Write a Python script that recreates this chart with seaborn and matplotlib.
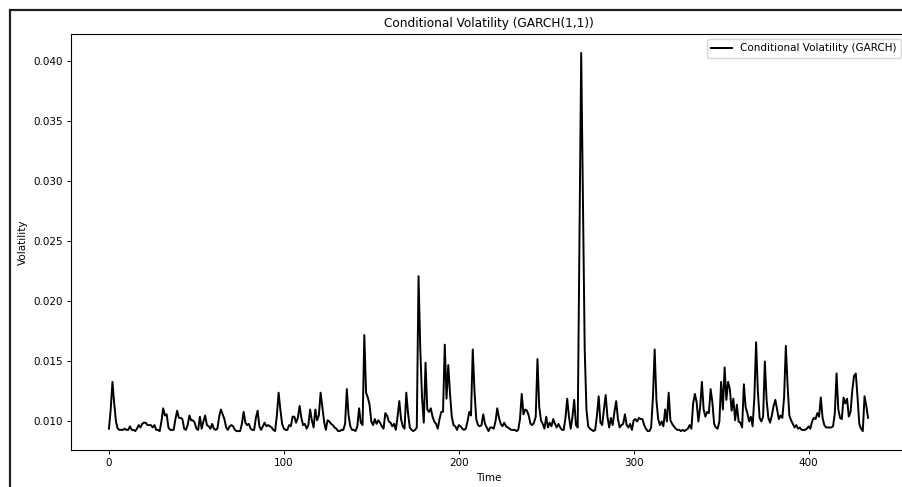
import matplotlib
matplotlib.use("Agg")
import matplotlib.pyplot as plt
from matplotlib.patches import Rectangle
import numpy as np
import pandas as pd
import seaborn as sns

volatility = [
    0.0094, 0.0110, 0.0133, 0.0115, 0.0100, 0.0094, 0.0093, 0.0093, 0.0093, 0.0094,
    0.0093, 0.0093, 0.0096, 0.0093, 0.0093, 0.0092, 0.0094, 0.0097, 0.0095, 0.0098,
    0.0099, 0.0099, 0.0097, 0.0097, 0.0097, 0.0095, 0.0097, 0.0093, 0.0093, 0.0092,
    0.0100, 0.0111, 0.0105, 0.0106, 0.0095, 0.0093, 0.0093, 0.0093, 0.0102, 0.0109,
    0.0103, 0.0103, 0.0102, 0.0094, 0.0093, 0.0097, 0.0105, 0.0101, 0.0101, 0.0099,
    0.0094, 0.0093, 0.0104, 0.0094, 0.0100, 0.0105, 0.0097, 0.0096, 0.0094, 0.0098,
    0.0094, 0.0093, 0.0094, 0.0104, 0.0110, 0.0106, 0.0102, 0.0095, 0.0093, 0.0096,
    0.0097, 0.0096, 0.0093, 0.0092, 0.0092, 0.0092, 0.0098, 0.0108, 0.0099, 0.0097,
    0.0098, 0.0094, 0.0093, 0.0093, 0.0103, 0.0109, 0.0096, 0.0093, 0.0096, 0.0099,
    0.0096, 0.0097, 0.0096, 0.0095, 0.0093, 0.0092, 0.0105, 0.0124, 0.0110, 0.0098,
    0.0094, 0.0093, 0.0093, 0.0097, 0.0096, 0.0104, 0.0104, 0.0099, 0.0103, 0.0113,
    0.0103, 0.0097, 0.0098, 0.0094, 0.0097, 0.0110, 0.0101, 0.0095, 0.0110, 0.0101,
    0.0105, 0.0124, 0.0112, 0.0100, 0.0093, 0.0101, 0.0100, 0.0098, 0.0097, 0.0095,
    0.0094, 0.0092, 0.0092, 0.0093, 0.0093, 0.0098, 0.0127, 0.0105, 0.0096, 0.0093,
    0.0093, 0.0092, 0.0096, 0.0111, 0.0099, 0.0097, 0.0172, 0.0124, 0.0120, 0.0114,
    0.0100, 0.0097, 0.0102, 0.0098, 0.0101, 0.0099, 0.0096, 0.0094, 0.0107, 0.0105,
    0.0100, 0.0099, 0.0096, 0.0098, 0.0093, 0.0104, 0.0117, 0.0102, 0.0096, 0.0094,
    0.0124, 0.0107, 0.0095, 0.0093, 0.0092, 0.0093, 0.0095, 0.0221, 0.0160, 0.0120,
    0.0099, 0.0149, 0.0110, 0.0108, 0.0111, 0.0104, 0.0100, 0.0098, 0.0094, 0.0102,
    0.0108, 0.0108, 0.0164, 0.0119, 0.0147, 0.0123, 0.0104, 0.0097, 0.0096, 0.0093,
    0.0097, 0.0096, 0.0094, 0.0093, 0.0094, 0.0100, 0.0108, 0.0105, 0.0160, 0.0125,
    0.0102, 0.0097, 0.0096, 0.0097, 0.0106, 0.0098, 0.0095, 0.0092, 0.0095, 0.0095,
    0.0094, 0.0100, 0.0111, 0.0103, 0.0098, 0.0096, 0.0099, 0.0096, 0.0095, 0.0094,
    0.0093, 0.0093, 0.0093, 0.0092, 0.0093, 0.0102, 0.0123, 0.0106, 0.0110, 0.0109,
    0.0105, 0.0098, 0.0097, 0.0099, 0.0104, 0.0152, 0.0112, 0.0101, 0.0098, 0.0094,
    0.0104, 0.0095, 0.0099, 0.0096, 0.0102, 0.0098, 0.0095, 0.0098, 0.0095, 0.0093,
    0.0093, 0.0103, 0.0119, 0.0104, 0.0094, 0.0104, 0.0118, 0.0097, 0.0095, 0.0250,
    0.0407, 0.0280, 0.0160, 0.0110, 0.0096, 0.0094, 0.0093, 0.0092, 0.0093, 0.0105,
    0.0121, 0.0099, 0.0097, 0.0110, 0.0122, 0.0104, 0.0095, 0.0103, 0.0097, 0.0108,
    0.0117, 0.0102, 0.0095, 0.0097, 0.0098, 0.0106, 0.0097, 0.0095, 0.0098, 0.0093,
    0.0101, 0.0102, 0.0100, 0.0103, 0.0102, 0.0102, 0.0097, 0.0094, 0.0092, 0.0092,
    0.0095, 0.0120, 0.0160, 0.0118, 0.0102, 0.0097, 0.0100, 0.0096, 0.0110, 0.0100,
    0.0124, 0.0101, 0.0098, 0.0096, 0.0094, 0.0093, 0.0093, 0.0092, 0.0093, 0.0092,
    0.0093, 0.0094, 0.0097, 0.0094, 0.0115, 0.0123, 0.0116, 0.0100, 0.0112, 0.0133,
    0.0110, 0.0104, 0.0108, 0.0107, 0.0127, 0.0116, 0.0098, 0.0095, 0.0094, 0.0100,
    0.0133, 0.0110, 0.0145, 0.0118, 0.0133, 0.0127, 0.0109, 0.0119, 0.0101, 0.0114,
    0.0100, 0.0099, 0.0095, 0.0131, 0.0112, 0.0107, 0.0100, 0.0104, 0.0096, 0.0120,
    0.0166, 0.0125, 0.0103, 0.0100, 0.0104, 0.0150, 0.0118, 0.0103, 0.0099, 0.0105,
    0.0113, 0.0118, 0.0110, 0.0102, 0.0105, 0.0103, 0.0120, 0.0163, 0.0130, 0.0105,
    0.0101, 0.0098, 0.0095, 0.0097, 0.0094, 0.0095, 0.0093, 0.0093, 0.0093, 0.0094,
    0.0096, 0.0094, 0.0100, 0.0103, 0.0102, 0.0107, 0.0104, 0.0120, 0.0103, 0.0097,
    0.0095, 0.0095, 0.0095, 0.0095, 0.0096, 0.0107, 0.0140, 0.0110, 0.0103, 0.0102,
    0.0120, 0.0115, 0.0119, 0.0104, 0.0108, 0.0126, 0.0138, 0.0140, 0.0120, 0.0098,
    0.0094, 0.0092, 0.0121, 0.0113, 0.0103,
]
time_index = list(range(len(volatility)))

title = "Conditional Volatility (GARCH(1,1))"
series_label = "Conditional Volatility (GARCH)"
x_label = "Time"
y_label = "Volatility"
y_ticks = [0.010, 0.015, 0.020, 0.025, 0.030, 0.035, 0.040]
x_ticks = [0, 100, 200, 300, 400]

df = pd.DataFrame({"Time": time_index, "Volatility": volatility})

plt.rcParams["font.family"] = ["DejaVu Sans"]
fig = plt.figure(figsize=(9.03, 4.87), dpi=100)
W, H = 903, 487
ax = fig.add_axes([71 / W, (H - 450) / H, (906 - 71) / W, (450 - 34) / H])

sns.lineplot(data=df, x="Time", y="Volatility", ax=ax, color="black",
             linewidth=1.4, label=series_label)

ax.set_title(title, fontsize=8.7, pad=5)
ax.set_xlabel(x_label, fontsize=7.5, labelpad=3.5)
ax.set_ylabel(y_label, fontsize=7.5, labelpad=3.5)
ax.tick_params(labelsize=7.5, length=2.8, width=0.7, pad=3.2)
ax.set_xticks(x_ticks)
ax.set_yticks(y_ticks)
ax.set_yticklabels([f"{v:.3f}" for v in y_ticks])
ax.spines["right"].set_visible(False)
for s in ["left", "top", "bottom"]:
    ax.spines[s].set_linewidth(0.8)
ax.legend(loc="upper right", fontsize=7.5, borderaxespad=0.5)

# outer frame line (left and top visible)
fig.patches.append(Rectangle((10 / W, -0.2), 1.5, 1.2 - 10 / H, transform=fig.transFigure,
                             fill=False, linewidth=1.6, edgecolor="#222222"))

fig.savefig("out.png", dpi=100)
